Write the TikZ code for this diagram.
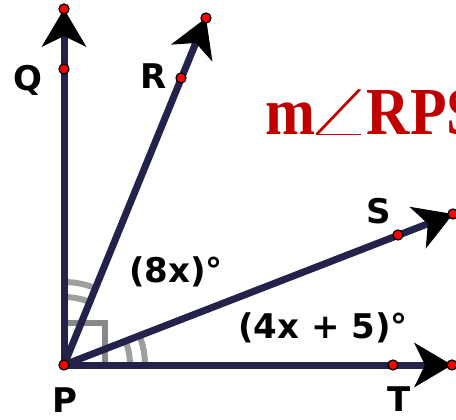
\documentclass[tikz,border=0pt]{standalone}
\usepackage{fontspec}
\setmainfont{DejaVu Sans}
\newfontfamily\titlefont{Liberation Serif}
\usetikzlibrary{arrows.meta}
\definecolor{raycol}{HTML}{22224A}
\definecolor{markcol}{HTML}{9E9E9E}
\definecolor{sqcol}{HTML}{888888}
\definecolor{titlecol}{HTML}{C00000}
\definecolor{dotcol}{HTML}{FF0000}
\tikzset{
  ray/.style={draw=raycol, line width=7pt, line cap=round,
    -{Stealth[length=38pt, width=45pt, inset=11pt, line width=0pt, black]}},
  pt/.style={circle, fill=dotcol, draw=black, line width=1.3pt, minimum size=10pt, inner sep=0pt},
  lbl/.style={font=\bfseries\fontsize{34}{36}\selectfont, text=black, inner sep=0pt},
  arcmark/.style={draw=markcol, line width=6pt},
  sqmark/.style={draw=sqcol, line width=6pt},
}
\begin{document}
\begin{tikzpicture}[x=1pt, y=-1pt]
\useasboundingbox (0,0) rectangle (456,420);
\clip (0,0) rectangle (456,420);
% points
\coordinate (P) at (64,365);
\coordinate (Qe) at (64,9);
\coordinate (Re) at (206,18);
\coordinate (Se) at (453,214);
\coordinate (Te) at (452,365);
% angle marks
\draw[arcmark] (P) ++(0:66) arc[start angle=0, end angle=-21.2, radius=66];
\draw[arcmark] (P) ++(0:81) arc[start angle=0, end angle=-21.2, radius=81];
\draw[arcmark] (P) ++(-90:68) arc[start angle=-90, end angle=-67.75, radius=68];
\draw[arcmark] (P) ++(-90:83) arc[start angle=-90, end angle=-67.75, radius=83];
\draw[sqmark] (61,323) -- (105,323) -- (105,365);
% rays
\draw[ray] (P) -- (Qe);
\draw[ray] (P) -- (Re);
\draw[ray] (P) -- (Se);
\draw[ray] (P) -- (Te);
% dots
\node[pt] (p) at (P) {};
\node[pt] (q1) at (Qe) {};
\node[pt] (q2) at (64,69) {};
\node[pt] (r1) at (Re) {};
\node[pt] (r2) at (181,78) {};
\node[pt] (s1) at (Se) {};
\node[pt] (s2) at (398,235) {};
\node[pt] (t1) at (Te) {};
\node[pt] (t2) at (393,365) {};
% labels
\node[lbl] (lq) at (28,80) {Q};
\node[lbl] (lr) at (154,76) {R};
\node[lbl] (ls) at (379,211) {S};
\node[lbl] (lt) at (399,399) {T};
\node[lbl] (lp) at (65,400) {P};
\node[lbl] (a1) at (176,272) {(8x)°};
\node[lbl] (a2) at (323,328) {(4x~+~5)°};
% title
\node[anchor=base west, inner sep=0pt, text=titlecol] (title) at (265,135)
  {\scalebox{1}[1.12]{\titlefont\bfseries\fontsize{60}{60}\selectfont m\kern-12pt\scalebox{3.65}[1.75]{$\angle$}\kern-7pt RPS}};
\end{tikzpicture}
\end{document}
